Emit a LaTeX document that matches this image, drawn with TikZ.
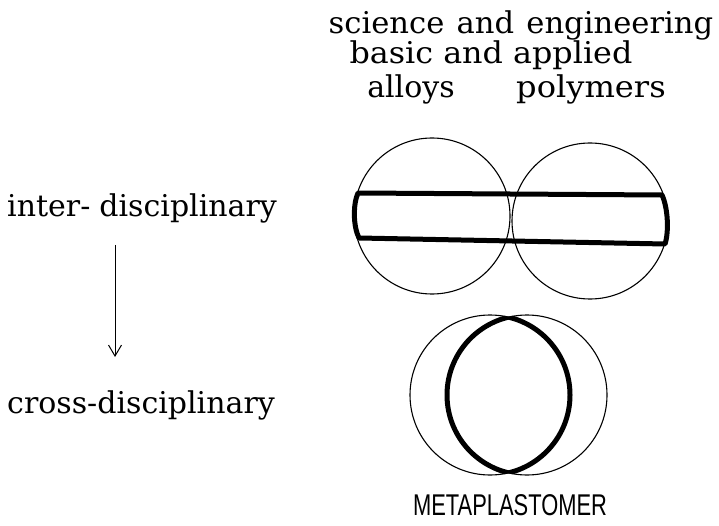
\documentclass[tikz,border=0pt]{standalone}
\usepackage{fontspec}
\setmainfont{DejaVu Serif}
\newfontfamily\capsfont{Liberation Sans}
\usetikzlibrary{arrows.meta}
\tikzset{
  lbl/.style={inner sep=0pt, anchor=base, font=\fontsize{30}{33}\selectfont},
  thin ring/.style={line width=1.1pt},
  thick ring/.style={line width=5pt, line join=round},
}
\begin{document}
\begin{tikzpicture}[x=1pt,y=-1pt]
\useasboundingbox (0,0) rectangle (719,526);
% top labels
\node[lbl, xscale=1.02] (l1) at (521,34) {science\hspace{0.4em}and\hspace{0.4em}engineering};
\node[lbl, xscale=1.06] (l2) at (491,64) {basic and applied};
\node[lbl] (alloys) at (411,98) {alloys};
\node[lbl, xscale=1.07] (polymers) at (591,98) {polymers};
% top circles
\draw[thin ring] (432,216) circle[radius=78];
\draw[thin ring] (590,221) circle[radius=78];
\draw[thick ring] (358,193) -- (662,195)
   .. controls (668,208) and (669,232) .. (665,244)
   -- (359,238)
   .. controls (353,226) and (353,204) .. (358,193) -- cycle;
% bottom circles and lens
\draw[thin ring] (490,395) circle[radius=80];
\draw[thin ring] (527,395) circle[radius=80];
\begin{scope}
  \clip (490,395) circle[radius=80.5];
  \draw[line width=5pt] (527,395) circle[radius=80];
\end{scope}
\begin{scope}
  \clip (527,395) circle[radius=80.5];
  \draw[line width=5pt] (490,395) circle[radius=80];
\end{scope}
\node[inner sep=0pt, anchor=base, font=\capsfont\fontsize{30}{32}\selectfont, xscale=0.73] (meta) at (510,515) {METAPLASTOMER};
% left labels and arrow
\node[lbl, anchor=base west] (inter) at (7,217) {inter-\hspace{0.3em}disciplinary};
\node[lbl, anchor=base west] (cross) at (7,413) {cross-disciplinary};
\coordinate (a1) at (115,245);
\coordinate (a2) at (115,357);
\draw[line width=1pt, -{Straight Barb[length=11pt,width=13pt]}] (a1) -- (a2);
\end{tikzpicture}
\end{document}
